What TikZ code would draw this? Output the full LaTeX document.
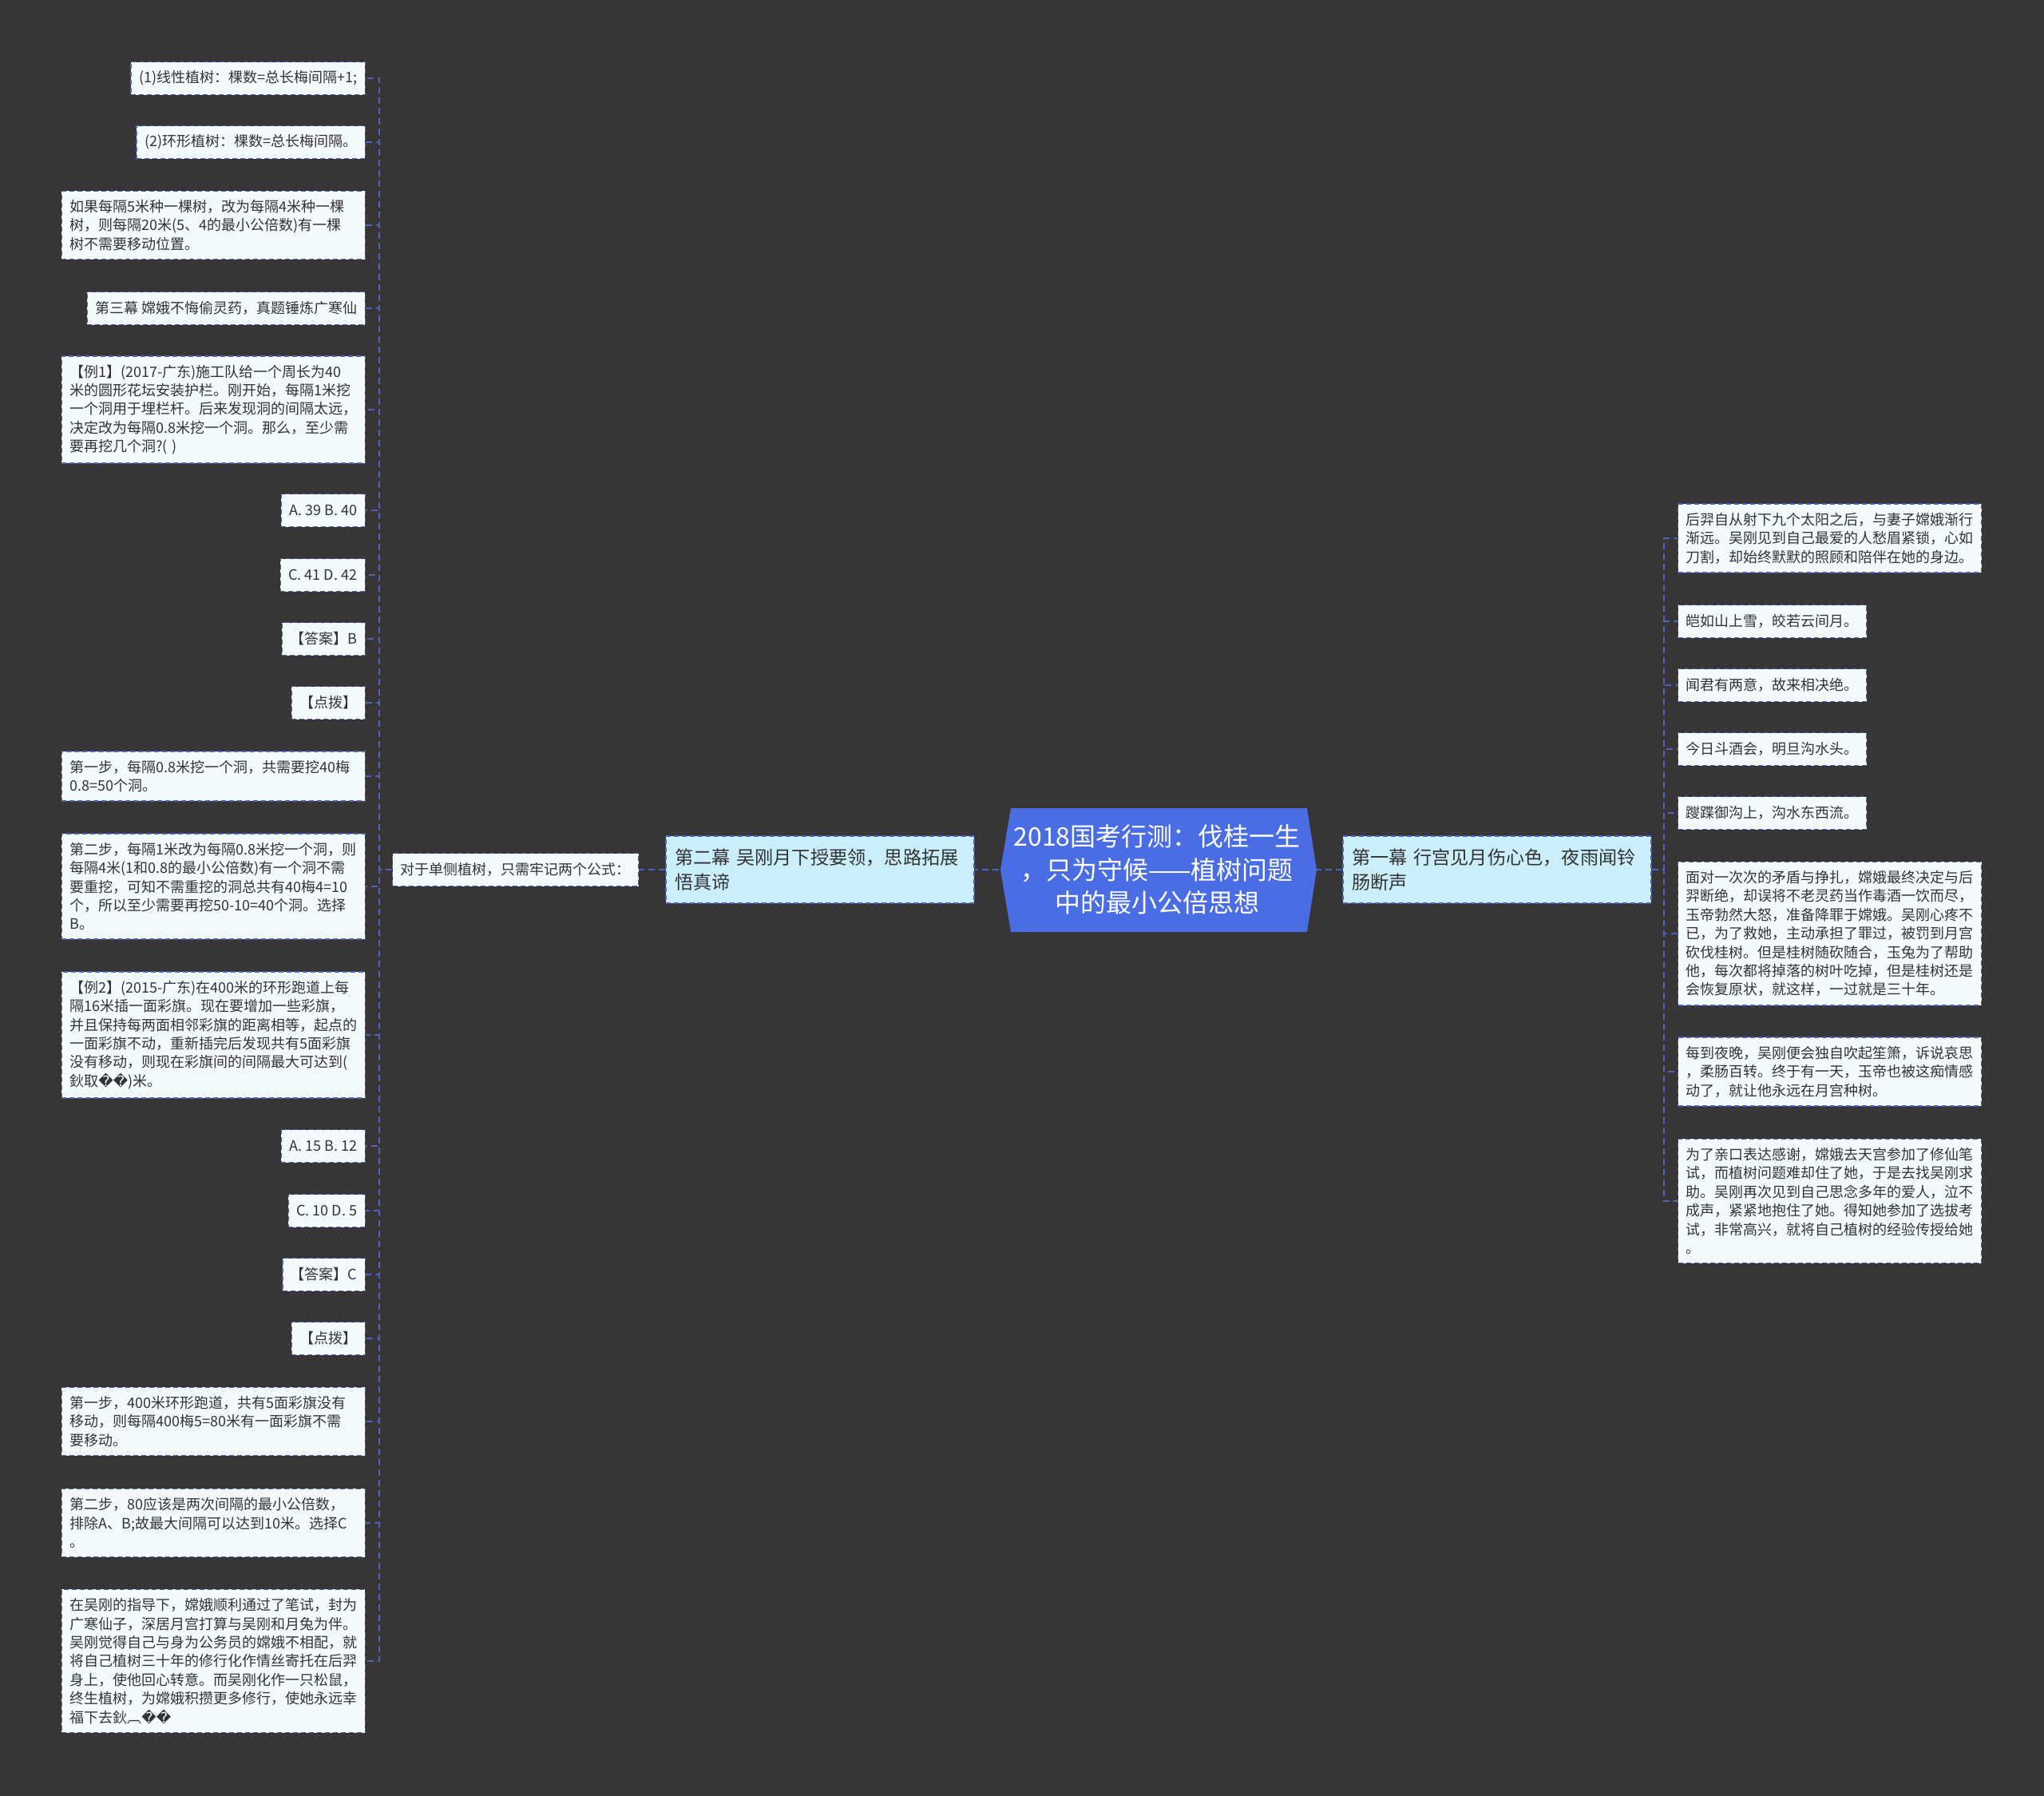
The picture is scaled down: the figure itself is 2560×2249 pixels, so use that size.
\documentclass[tikz,border=0pt]{standalone}
\usepackage{fontspec}
\setmainfont{Noto Sans CJK SC}
\newfontfamily\dvsans{DejaVu Sans}
\usetikzlibrary{calc}
\definecolor{bgcol}{HTML}{373536}
\definecolor{leafcol}{HTML}{F2FAFD}
\definecolor{midcol}{HTML}{CBEEFB}
\definecolor{ctrcol}{HTML}{4A6DE3}
\definecolor{linkcol}{HTML}{4F63BE}
\definecolor{txtcol}{HTML}{333333}
\newcommand{\bad}{{\dvsans ��}}

\begin{document}
\begin{tikzpicture}[x=0.5pt,y=-0.5pt,
    leaf/.style={draw=linkcol,fill=leafcol,text=txtcol,dash pattern=on 3pt off 2pt,line width=0.7pt,
      font=\fontsize{9}{11.7}\selectfont,inner xsep=5pt,inner ysep=5.5pt,align=left,minimum height=20.5pt},
    wide/.style={leaf,text width=180pt},
    mid/.style={draw=linkcol,fill=midcol,text=txtcol,dash pattern=on 3pt off 2pt,line width=0.7pt,
      font=\fontsize{11.6}{15.5}\selectfont,inner xsep=5.5pt,text width=182pt,align=left,minimum height=42pt},
    link/.style={draw=linkcol,line width=1pt,dash pattern=on 4pt off 2.5pt},
    toL/.style={to path={-- ++(-8pt,0) |- (\tikztotarget)}},
    toR/.style={to path={-- ++(7.5pt,0) |- (\tikztotarget)}}]
    \fill[bgcol] (0,0) rectangle (2560,2249);
    \useasboundingbox (0,0) rectangle (2560,2249);

    % centre
    \fill[ctrcol] (1266,1012) -- (1637,1012) -- (1649,1089) -- (1637,1167) -- (1266,1167) -- (1253,1089) -- cycle;
    \node (0) [text=white,font=\fontsize{16}{20.8}\selectfont,align=center,minimum width=198pt,minimum height=77.5pt] at (1449,1089)
      {2018国考行测：伐桂一生\\，只为守候——植树问题\\中的最小公倍思想};

    \node (1) [mid] at (1027,1089) {第二幕 吴刚月下授要领，思路拓展\\悟真谛};
    \node (3) [mid] at (1875,1089) {第一幕 行宫见月伤心色，夜雨闻铃\\肠断声};
    \node (2) [leaf,anchor=west] at (491,1089) {对于单侧植树，只需牢记两个公式：};

    % left side
    \node (l1) [leaf,anchor=east] at (458,98) {(1)线性植树：棵数=总长梅间隔+1;};
    \node (l2) [leaf,anchor=east] at (458,178) {(2)环形植树：棵数=总长梅间隔。};
    \node (l3) [wide,anchor=east] at (458,282) {如果每隔5米种一棵树，改为每隔4米种一棵\\树，则每隔20米(5、4的最小公倍数)有一棵\\树不需要移动位置。};
    \node (l4) [leaf,anchor=east] at (458,386) {第三幕 嫦娥不悔偷灵药，真题锤炼广寒仙};
    \node (l5) [wide,anchor=east] at (458,513) {【例1】(2017-广东)施工队给一个周长为40\\米的圆形花坛安装护栏。刚开始，每隔1米挖\\一个洞用于埋栏杆。后来发现洞的间隔太远，\\决定改为每隔0.8米挖一个洞。那么，至少需\\要再挖几个洞?( )};
    \node (l6) [leaf,anchor=east] at (458,639) {A. 39 B. 40};
    \node (l7) [leaf,anchor=east] at (458,720) {C. 41 D. 42};
    \node (l8) [leaf,anchor=east] at (458,800) {【答案】B};
    \node (l9) [leaf,anchor=east] at (458,880) {【点拨】};
    \node (l10) [wide,anchor=east] at (458,972) {第一步，每隔0.8米挖一个洞，共需要挖40梅\\0.8=50个洞。};
    \node (l11) [wide,anchor=east] at (458,1110) {第二步，每隔1米改为每隔0.8米挖一个洞，则\\每隔4米(1和0.8的最小公倍数)有一个洞不需\\要重挖，可知不需重挖的洞总共有40梅4=10\\个，所以至少需要再挖50-10=40个洞。选择\\B。};
    \node (l12) [wide,anchor=east] at (458,1296) {【例2】(2015-广东)在400米的环形跑道上每\\隔16米插一面彩旗。现在要增加一些彩旗，\\并且保持每两面相邻彩旗的距离相等，起点的\\一面彩旗不动，重新插完后发现共有5面彩旗\\没有移动，则现在彩旗间的间隔最大可达到(\\鈥取\bad)米。};
    \node (l13) [leaf,anchor=east] at (458,1435) {A. 15 B. 12};
    \node (l14) [leaf,anchor=east] at (458,1516) {C. 10 D. 5};
    \node (l15) [leaf,anchor=east] at (458,1596) {【答案】C};
    \node (l16) [leaf,anchor=east] at (458,1676) {【点拨】};
    \node (l17) [wide,anchor=east] at (458,1780) {第一步，400米环形跑道，共有5面彩旗没有\\移动，则每隔400梅5=80米有一面彩旗不需\\要移动。};
    \node (l18) [wide,anchor=east] at (458,1907) {第二步，80应该是两次间隔的最小公倍数，\\排除A、B;故最大间隔可以达到10米。选择C\\。};
    \node (l19) [wide,anchor=east] at (458,2080) {在吴刚的指导下，嫦娥顺利通过了笔试，封为\\广寒仙子，深居月宫打算与吴刚和月兔为伴。\\吴刚觉得自己与身为公务员的嫦娥不相配，就\\将自己植树三十年的修行化作情丝寄托在后羿\\身上，使他回心转意。而吴刚化作一只松鼠，\\终生植树，为嫦娥积攒更多修行，使她永远幸\\福下去鈥︹\bad};

    % right side
    \node (r1) [wide,anchor=west] at (2101,674) {后羿自从射下九个太阳之后，与妻子嫦娥渐行\\渐远。吴刚见到自己最爱的人愁眉紧锁，心如\\刀割，却始终默默的照顾和陪伴在她的身边。};
    \node (r2) [leaf,anchor=west] at (2101,778) {皑如山上雪，皎若云间月。};
    \node (r3) [leaf,anchor=west] at (2101,858) {闻君有两意，故来相决绝。};
    \node (r4) [leaf,anchor=west] at (2101,938) {今日斗酒会，明旦沟水头。};
    \node (r5) [leaf,anchor=west] at (2101,1018) {躞蹀御沟上，沟水东西流。};
    \node (r6) [wide,anchor=west] at (2101,1169) {面对一次次的矛盾与挣扎，嫦娥最终决定与后\\羿断绝，却误将不老灵药当作毒酒一饮而尽，\\玉帝勃然大怒，准备降罪于嫦娥。吴刚心疼不\\已，为了救她，主动承担了罪过，被罚到月宫\\砍伐桂树。但是桂树随砍随合，玉兔为了帮助\\他，每次都将掉落的树叶吃掉，但是桂树还是\\会恢复原状，就这样，一过就是三十年。};
    \node (r7) [wide,anchor=west] at (2101,1342) {每到夜晚，吴刚便会独自吹起笙箫，诉说哀思\\，柔肠百转。终于有一天，玉帝也被这痴情感\\动了，就让他永远在月宫种树。};
    \node (r8) [wide,anchor=west] at (2101,1504) {为了亲口表达感谢，嫦娥去天宫参加了修仙笔\\试，而植树问题难却住了她，于是去找吴刚求\\助。吴刚再次见到自己思念多年的爱人，泣不\\成声，紧紧地抱住了她。得知她参加了选拔考\\试，非常高兴，就将自己植树的经验传授给她\\。};

    \path[link]
    (0.west) edge (1.east)
    (1.west) edge (2.east)
    (0.east) edge (3.west)
    (2.west) edge[toL] (l1.east)
    (2.west) edge[toL] (l2.east)
    (2.west) edge[toL] (l3.east)
    (2.west) edge[toL] (l4.east)
    (2.west) edge[toL] (l5.east)
    (2.west) edge[toL] (l6.east)
    (2.west) edge[toL] (l7.east)
    (2.west) edge[toL] (l8.east)
    (2.west) edge[toL] (l9.east)
    (2.west) edge[toL] (l10.east)
    (2.west) edge[toL] (l11.east)
    (2.west) edge[toL] (l12.east)
    (2.west) edge[toL] (l13.east)
    (2.west) edge[toL] (l14.east)
    (2.west) edge[toL] (l15.east)
    (2.west) edge[toL] (l16.east)
    (2.west) edge[toL] (l17.east)
    (2.west) edge[toL] (l18.east)
    (2.west) edge[toL] (l19.east)
    (3.east) edge[toR] (r1.west)
    (3.east) edge[toR] (r2.west)
    (3.east) edge[toR] (r3.west)
    (3.east) edge[toR] (r4.west)
    (3.east) edge[toR] (r5.west)
    (3.east) edge[toR] (r6.west)
    (3.east) edge[toR] (r7.west)
    (3.east) edge[toR] (r8.west);
\end{tikzpicture}
\end{document}
